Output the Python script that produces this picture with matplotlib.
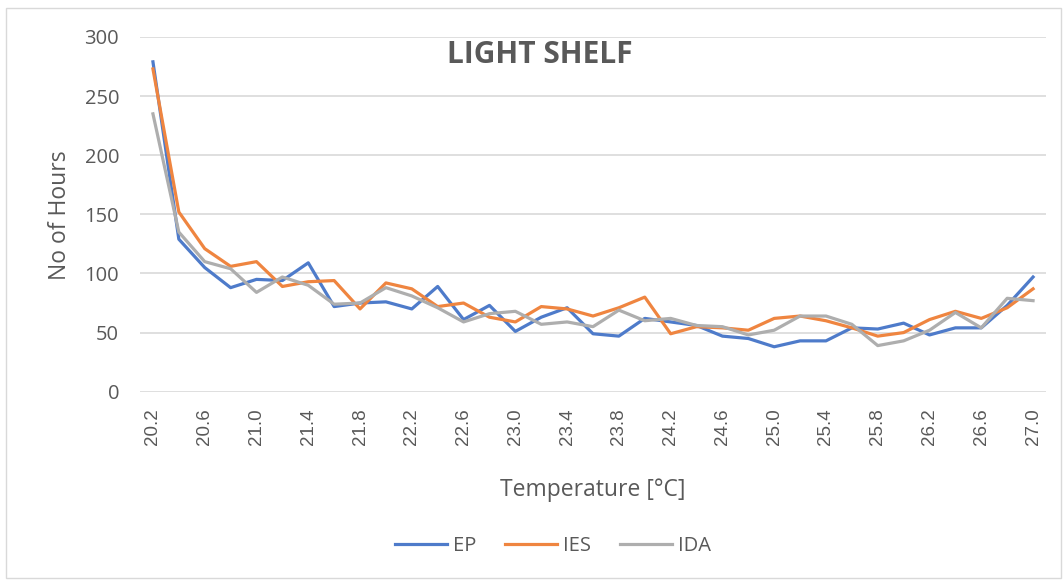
import matplotlib
matplotlib.use("Agg")
import matplotlib.pyplot as plt
from matplotlib.patches import Rectangle

# Temperature bins and hours per model
temps = ["20.2", "20.4", "20.6", "20.8", "21.0", "21.2", "21.4", "21.6", "21.8", "22.0",
         "22.2", "22.4", "22.6", "22.8", "23.0", "23.2", "23.4", "23.6", "23.8", "24.0",
         "24.2", "24.4", "24.6", "24.8", "25.0", "25.2", "25.4", "25.6", "25.8", "26.0",
         "26.2", "26.4", "26.6", "26.8", "27.0"]
ep = [279, 129, 105, 88, 95, 94, 109, 72, 75, 76,
      70, 89, 61, 73, 51, 63, 71, 49, 47, 62,
      59, 56, 47, 45, 38, 43, 43, 54, 53, 58,
      48, 54, 54, 73, 97]
ies = [273, 152, 121, 106, 110, 89, 93, 94, 70, 92,
       87, 72, 75, 63, 59, 72, 70, 64, 71, 80,
       49, 55, 54, 52, 62, 64, 60, 54, 47, 50,
       61, 68, 62, 71, 87]
ida = [235, 135, 110, 104, 84, 97, 90, 74, 75, 88,
       81, 71, 59, 66, 68, 57, 59, 55, 69, 60,
       62, 56, 55, 48, 52, 64, 64, 57, 39, 43,
       52, 67, 54, 79, 77]

txt = "#595959"
plt.rcParams['font.family'] = ['Open Sans', 'DejaVu Sans']

fig = plt.figure(figsize=(10.64, 5.81), dpi=100)
fig.patches.append(Rectangle((6 / 1064, 3 / 581), 1055 / 1064, 570 / 581,
                             transform=fig.transFigure, fill=False,
                             edgecolor="#D9D9D9", linewidth=1))
ax = fig.add_axes([140 / 1064, 1 - 391.7 / 581, 906 / 1064, 354.7 / 581])

x = range(len(temps))
ax.plot(x, ep, color="#4E7BCA", lw=2.3, label="EP")
ax.plot(x, ies, color="#EF8540", lw=2.3, label="IES")
ax.plot(x, ida, color="#AEAEAE", lw=2.3, label="IDA")

ax.set_xlim(-0.5, len(temps) - 0.5)
ax.set_ylim(0, 300)
ax.set_yticks(range(0, 301, 50))
ax.grid(axis="y", color="#D9D9D9", lw=1.2)
ax.set_axisbelow(True)
for s in ax.spines.values():
    s.set_visible(False)

ax.set_xticks(list(x)[::2])
ax.set_xticklabels(temps[::2], rotation=90, fontsize=13.5, color=txt,
                   family="Liberation Sans")
ax.tick_params(axis="x", length=0, pad=12)
ax.tick_params(axis="y", length=0, pad=15, labelsize=14.5, labelcolor=txt)

ax.text(0.4415, 0.948, "LIGHT SHELF", transform=ax.transAxes, ha="center",
        va="center", fontsize=21.5, fontweight="bold", color=txt)
fig.text(593 / 1064, 1 - 490 / 581, "Temperature [°C]", ha="center", va="center",
         fontsize=16.5, color=txt)
fig.text(60 / 1064, 1 - 215 / 581, "No of Hours", ha="center", va="center",
         rotation=90, fontsize=16.5, color=txt)

fig.legend(loc="center", bbox_to_anchor=(553 / 1064, 1 - 546 / 581), ncol=3,
           frameon=False, fontsize=14.5, labelcolor=txt, handlelength=2.6,
           columnspacing=1.4, handletextpad=0.3)

fig.savefig("out.png", dpi=100)
